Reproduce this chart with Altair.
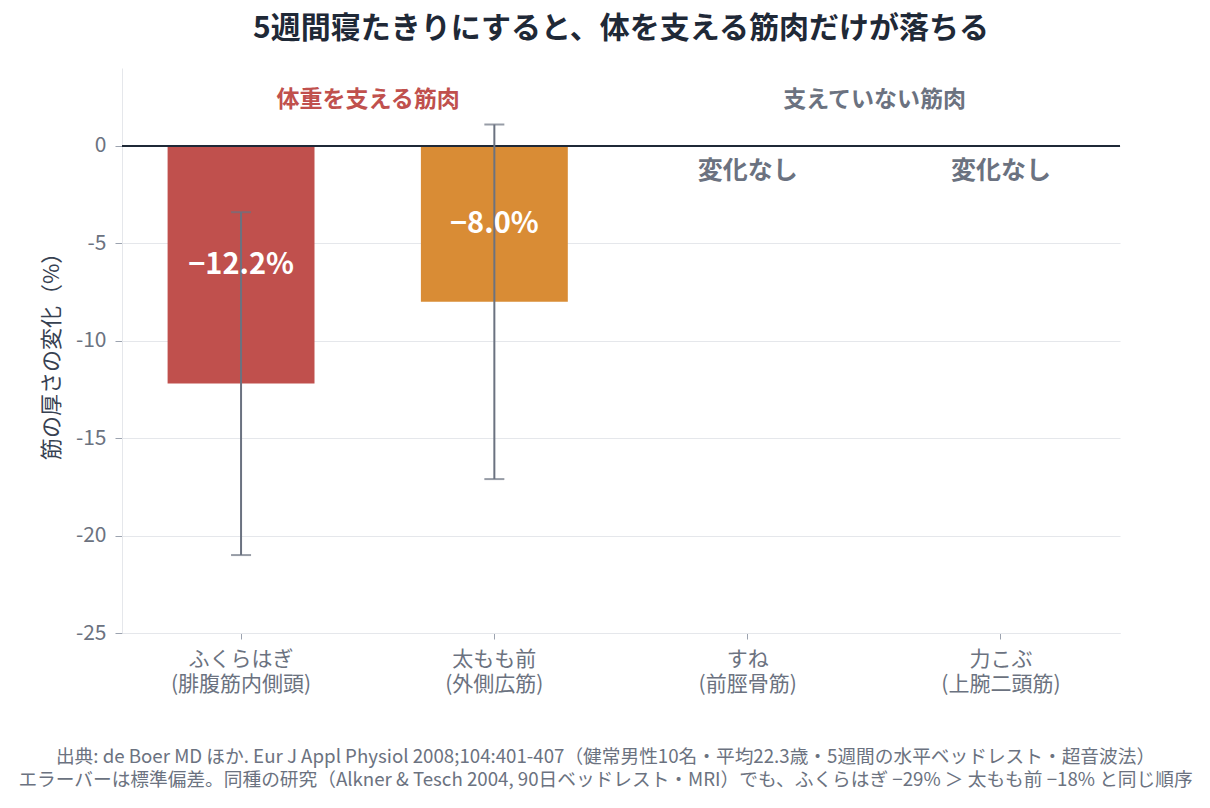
import altair as alt
import pandas as pd

FONT = "Noto Sans CJK JP"

muscles = ["ふくらはぎ|(腓腹筋内側頭)", "太もも前|(外側広筋)", "すね|(前脛骨筋)", "力こぶ|(上腕二頭筋)"]
change = [-12.2, -8.0, 0.0, 0.0]
sd = [8.8, 9.1, None, None]
labels = ["−12.2%", "−8.0%", "変化なし", "変化なし"]

group_names = ["体重を支える筋肉", "支えていない筋肉"]
group_anchor = ["ふくらはぎ|(腓腹筋内側頭)", "すね|(前脛骨筋)"]

footnote = [
    "出典: de Boer MD ほか. Eur J Appl Physiol 2008;104:401-407（健常男性10名・平均22.3歳・5週間の水平ベッドレスト・超音波法）",
    "エラーバーは標準偏差。同種の研究（Alkner & Tesch 2004, 90日ベッドレスト・MRI）でも、ふくらはぎ −29% ＞ 太もも前 −18% と同じ順序",
]

RED = "#c0504d"
ORANGE = "#d98c35"
GRAY = "#6b7280"
DARK = "#1f2937"

df = pd.DataFrame({"muscle": muscles, "change": change, "sd": sd, "label": labels})
df["mid"] = df["change"] / 2
df["lo"] = df["change"] - df["sd"]
df["hi"] = df["change"] + df["sd"]

gdf = pd.DataFrame({"name": group_names, "anchor": group_anchor})

xscale = alt.Scale(domain=muscles, paddingInner=0.42, paddingOuter=0.18)
yscale = alt.Scale(domain=[-25, 4], nice=False, zero=False)

x = alt.X(
    "muscle:N",
    sort=muscles,
    scale=xscale,
    axis=alt.Axis(
        title=footnote,
        labelExpr="split(datum.label, '|')",
        labelAngle=0,
        labelFontSize=21,
        labelLineHeight=25,
        labelColor=GRAY,
        labelPadding=9,
        tickColor="#9ca3af",
        tickSize=6,
        domainColor="#e5e7eb",
        titleFontSize=18.7,
        titleFontWeight="normal",
        titleColor=GRAY,
        titleLineHeight=23,
        titlePadding=53,
        titleX=483,
    ),
)
y = alt.Y(
    "change:Q",
    scale=yscale,
    axis=alt.Axis(
        title="筋の厚さの変化（%）",
        values=[0, -5, -10, -15, -20, -25],
        labelExpr="toString(datum.value)",
        labelFontSize=21,
        labelColor=GRAY,
        labelPadding=9,
        tickColor="#9ca3af",
        tickSize=7,
        gridColor="#e5e7eb",
        domainColor="#e5e7eb",
        titleFontSize=22,
        titleFontWeight="normal",
        titleColor="#374151",
        titlePadding=12,
    ),
)

base = alt.Chart(df)

bars = base.transform_filter("datum.change != 0").mark_bar().encode(
    x=x,
    y=y,
    y2=alt.datum(0),
    color=alt.Color("muscle:N", scale=alt.Scale(domain=muscles[:2], range=[RED, ORANGE]), legend=None),
)

zero = alt.Chart(pd.DataFrame({"v": [0]})).mark_rule(color=DARK, strokeWidth=2).encode(y=alt.Y("v:Q", scale=yscale))

err = base.transform_filter("isValid(datum.sd)").mark_rule(color=GRAY, strokeWidth=2).encode(
    x=alt.X("muscle:N", sort=muscles, scale=xscale),
    y=alt.Y("lo:Q", scale=yscale),
    y2="hi:Q",
)
cap_lo = base.transform_filter("isValid(datum.sd)").mark_tick(color=GRAY, size=20, thickness=2).encode(
    x=alt.X("muscle:N", sort=muscles, scale=xscale),
    y=alt.Y("lo:Q", scale=yscale),
)
cap_hi = base.transform_filter("isValid(datum.sd)").mark_tick(color=GRAY, size=20, thickness=2).encode(
    x=alt.X("muscle:N", sort=muscles, scale=xscale),
    y=alt.Y("hi:Q", scale=yscale),
)

bar_text = base.transform_filter("datum.change != 0").mark_text(
    font=FONT, fontSize=29, fontWeight="bold", color="white", baseline="middle"
).encode(
    x=alt.X("muscle:N", sort=muscles, scale=xscale),
    y=alt.Y("mid:Q", scale=yscale),
    text="label:N",
)

none_text = base.transform_filter("datum.change == 0").mark_text(
    font=FONT, fontSize=25, fontWeight="bold", color=GRAY, baseline="middle", dy=25
).encode(
    x=alt.X("muscle:N", sort=muscles, scale=xscale),
    y=alt.Y("change:Q", scale=yscale),
    text="label:N",
)

group_text = alt.Chart(gdf).mark_text(
    font=FONT, fontSize=23, fontWeight="bold", baseline="middle", dx=127
).encode(
    x=alt.X("anchor:N", sort=muscles, scale=xscale),
    y=alt.datum(2.36, scale=yscale),
    text="name:N",
    color=alt.Color("name:N", scale=alt.Scale(domain=group_names, range=[RED, GRAY]), legend=None),
)

chart = alt.layer(bars, zero, err, cap_lo, cap_hi, bar_text, none_text, group_text).resolve_scale(
    color="independent"
).properties(
    width=998,
    height=565,
    title=alt.TitleParams(
        "5週間寝たきりにすると、体を支える筋肉だけが落ちる",
        fontSize=30,
        fontWeight="bold",
        color=DARK,
        font=FONT,
        offset=24,
    ),
    autosize=alt.AutoSizeParams(type="none"),
    padding={"left": 114, "top": 60, "right": 80, "bottom": 165},
).configure(font=FONT).configure_view(stroke=None).configure_axis(labelFont=FONT, titleFont=FONT)

chart.save("out.html", embed_options={"renderer": "svg", "actions": False})
